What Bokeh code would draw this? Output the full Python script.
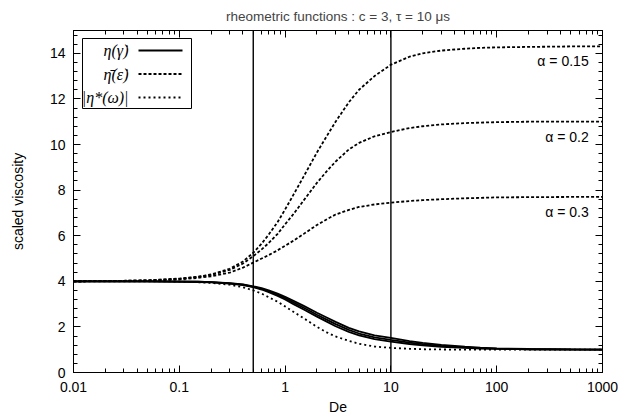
import numpy as np
from bokeh.plotting import figure
from bokeh.models import (LinearAxis, LogAxis, Span, SingleIntervalTicker, FixedTicker,
                          CustomJSTickFormatter)
from bokeh.core.properties import value
from bokeh.embed import file_html
from bokeh.resources import INLINE

# ---------------- data ----------------
De = [0.01, 0.02, 0.05, 0.1, 0.15, 0.2, 0.3, 0.4, 0.5, 0.6, 0.7, 0.85, 1, 1.2, 1.5, 2, 2.5, 3,
      4, 5, 7, 10, 15, 20, 30, 50, 70, 100, 200, 500, 1000]

# shear viscosity eta(gamma_dot), three curves (solid)
shear_1 = [4.0, 4.0, 4.0, 3.99, 3.98, 3.96, 3.92, 3.86, 3.78, 3.70, 3.60, 3.46, 3.32, 3.14, 2.92,
           2.62, 2.40, 2.22, 1.96, 1.80, 1.63, 1.52, 1.38, 1.30, 1.21, 1.13, 1.09, 1.06, 1.03,
           1.01, 1.0]
shear_2 = [4.0, 4.0, 4.0, 3.99, 3.98, 3.96, 3.91, 3.85, 3.76, 3.67, 3.56, 3.41, 3.26, 3.07, 2.84,
           2.53, 2.31, 2.12, 1.87, 1.71, 1.54, 1.43, 1.31, 1.24, 1.17, 1.10, 1.07, 1.05, 1.02,
           1.01, 1.0]
shear_3 = [4.0, 4.0, 4.0, 3.99, 3.97, 3.95, 3.90, 3.83, 3.74, 3.64, 3.52, 3.36, 3.20, 3.00, 2.76,
           2.45, 2.22, 2.03, 1.78, 1.63, 1.46, 1.35, 1.25, 1.19, 1.13, 1.08, 1.05, 1.04, 1.02,
           1.0, 1.0]

# extensional viscosity (dashed), alpha = 0.15, 0.2, 0.3
ext_015 = [4.0, 4.01, 4.04, 4.12, 4.20, 4.30, 4.55, 4.87, 5.25, 5.65, 6.05, 6.60, 7.15, 7.80,
           8.60, 9.65, 10.4, 11.0, 11.85, 12.4, 13.0, 13.5, 13.85, 14.0, 14.12, 14.2, 14.24,
           14.26, 14.28, 14.3, 14.3]
ext_02 = [4.0, 4.01, 4.04, 4.11, 4.19, 4.28, 4.50, 4.78, 5.10, 5.40, 5.68, 6.08, 6.50, 6.95,
          7.55, 8.32, 8.85, 9.25, 9.78, 10.07, 10.36, 10.55, 10.72, 10.8, 10.88, 10.94, 10.96,
          10.98, 11.0, 11.0, 11.0]
ext_03 = [4.0, 4.01, 4.03, 4.08, 4.15, 4.22, 4.38, 4.60, 4.82, 5.00, 5.15, 5.36, 5.56, 5.78,
          6.08, 6.47, 6.73, 6.93, 7.13, 7.26, 7.37, 7.45, 7.52, 7.56, 7.60, 7.64, 7.66, 7.68,
          7.69, 7.7, 7.7]

# complex viscosity magnitude (dotted)
complex_mag = [4.0, 4.0, 4.0, 3.99, 3.96, 3.93, 3.85, 3.74, 3.60, 3.46, 3.30, 3.10, 2.90, 2.66,
               2.38, 2.00, 1.75, 1.58, 1.39, 1.26, 1.14, 1.08, 1.04, 1.02, 1.01, 1.0, 1.0, 1.0,
               1.0, 1.0, 1.0]

alpha_labels = ["α = 0.15", "α = 0.2", "α = 0.3"]
alpha_plateau = [14.3, 11.0, 7.7]

marked_De = [0.5, 10]

x_major = [0.01, 0.1, 1, 10, 100, 1000]
legend_labels = ["η(γ̇)", "η̄(ε̇)", "|η*(ω)|"]

# ---------------- layout helpers ----------------
FL, FR, FT, FB = 73, 602, 30, 372
def px_to_x(px):
    return 10 ** (-2 + 5 * (px - FL) / (FR - FL))
def px_to_y(py):
    return 15 * (FB - py) / (FB - FT)

FONT = "Liberation Sans"
FS = "14px"

p = figure(width=622, height=418, x_axis_type="log", x_range=(0.01, 1000), y_range=(0, 15),
           output_backend="svg", toolbar_location=None,
           min_border_left=FL, min_border_right=622 - FR, min_border_top=0,
           min_border_bottom=418 - FB,
           title="rheometric functions : c = 3, τ = 10 μs")
p.title.align = "center"
p.title.text_font = FONT
p.title.text_font_size = "13.5px"
p.title.text_font_style = "normal"
p.title.standoff = 13
p.xgrid.visible = False
p.ygrid.visible = False
p.outline_line_color = "black"
p.outline_line_width = 1
p.background_fill_color = "white"
p.border_fill_color = "white"

x_minor = [m * 10.0 ** e for e in range(-2, 3) for m in range(2, 10)]
blank = CustomJSTickFormatter(code="return '';")

def style_axis(ax, labels=True):
    ax.axis_line_color = "black"
    ax.major_tick_line_color = "black"
    ax.minor_tick_line_color = "black"
    ax.major_tick_in = 7
    ax.major_tick_out = 0
    ax.minor_tick_in = 4
    ax.minor_tick_out = 0
    ax.major_label_text_font = FONT
    ax.major_label_text_color = "black"
    ax.axis_label_text_font = FONT
    ax.axis_label_text_font_style = "normal"
    ax.axis_label_text_font_size = FS
    ax.axis_label_text_color = "black"
    if labels:
        ax.major_label_text_font_size = FS
    else:
        ax.formatter = blank
        ax.major_label_text_font_size = "1px"
        ax.major_label_standoff = 0

fmt = CustomJSTickFormatter(code="return String(parseFloat(tick.toPrecision(6)));")

xb = p.xaxis[0]
xb.ticker = FixedTicker(ticks=x_major, minor_ticks=x_minor)
xb.formatter = fmt
xb.axis_label = "De"
style_axis(xb)
xb.major_label_standoff = 9
xb.axis_label_standoff = 4

yl = p.yaxis[0]
yl.ticker = SingleIntervalTicker(interval=2, num_minor_ticks=5)
yl.axis_label = "scaled viscosity"
style_axis(yl)
yl.major_label_standoff = 8
yl.axis_label_standoff = 21

xt = LogAxis(ticker=FixedTicker(ticks=x_major, minor_ticks=x_minor))
style_axis(xt, labels=False)
p.add_layout(xt, "above")
yr = LinearAxis(ticker=SingleIntervalTicker(interval=2, num_minor_ticks=5))
style_axis(yr, labels=False)
p.add_layout(yr, "right")

# vertical marker lines
for loc in marked_De:
    p.add_layout(Span(location=loc, dimension="height", line_color="black", line_width=1.4))

LW = 1.8
for ys in (ext_015, ext_02, ext_03):
    p.line(De, ys, line_color="black", line_width=LW, line_dash="3 2")
p.line(De, complex_mag, line_color="black", line_width=LW, line_dash="2 3")
for ys in (shear_1, shear_2, shear_3):
    p.line(De, ys, line_color="black", line_width=LW)

# alpha labels
p.text(x=[740] * 3, y=[v - 0.65 for v in alpha_plateau], text=alpha_labels,
       text_align="right", text_baseline="middle", text_color="black",
       text_font=value(FONT), text_font_size=FS)

# custom legend (labels left, samples right)
p.quad(left=[px_to_x(82)], right=[px_to_x(191)], top=[px_to_y(38)], bottom=[px_to_y(108)],
       fill_color="white", line_color="black", line_width=1)
entry_y = [50, 73.5, 97]
dashes = ["solid", "3 2", "2 3"]
for lab, ey, dsh in zip(legend_labels, entry_y, dashes):
    p.line([px_to_x(138), px_to_x(182)], [px_to_y(ey)] * 2, line_color="black",
           line_width=LW, line_dash=dsh)
p.text(x=[px_to_x(128)] * 3, y=[px_to_y(ey) for ey in entry_y], text=legend_labels,
       text_align="right", text_baseline="middle", text_color="black",
       text_font=value("Liberation Serif"), text_font_style="italic", text_font_size="16px")

open("out.html", "w").write(file_html(p, INLINE))
